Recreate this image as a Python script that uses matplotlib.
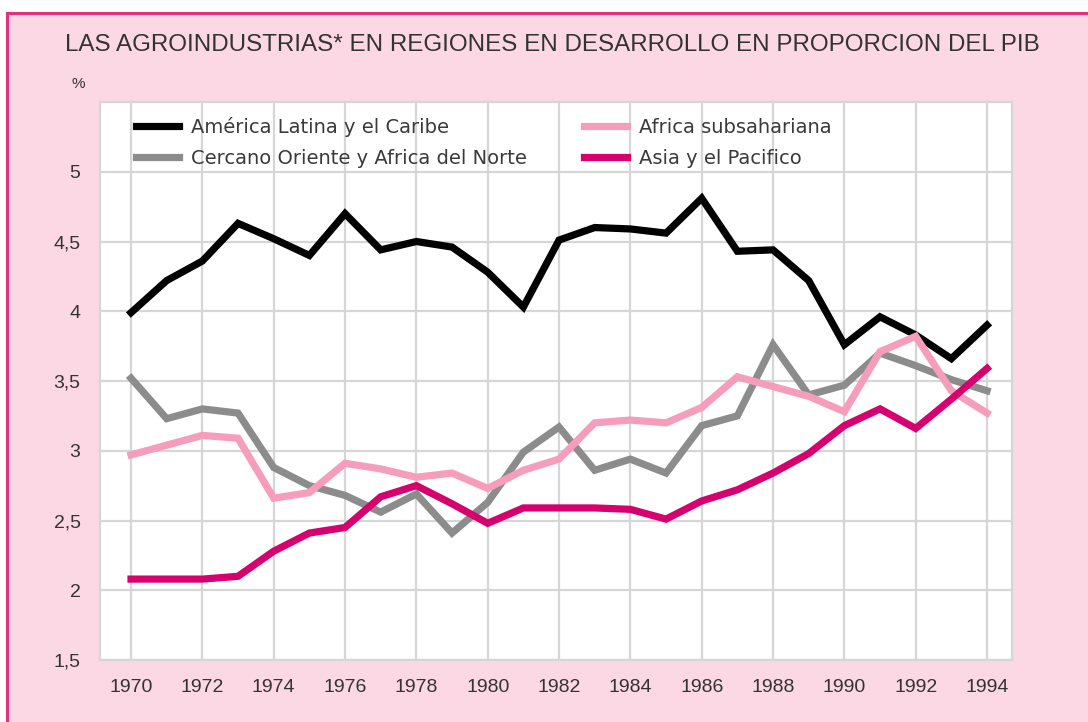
import numpy as np
import matplotlib.pyplot as plt
from matplotlib.patches import Rectangle
from matplotlib.lines import Line2D

years = list(range(1970, 1995))

america_latina = [3.99, 4.22, 4.36, 4.63, 4.52, 4.40, 4.70, 4.44, 4.50, 4.46, 4.28, 4.03, 4.51,
                  4.60, 4.59, 4.56, 4.81, 4.43, 4.44, 4.22, 3.76, 3.96, 3.83, 3.66, 3.90]
cercano_oriente = [3.52, 3.23, 3.30, 3.27, 2.88, 2.75, 2.68, 2.56, 2.69, 2.41, 2.63, 2.99, 3.17,
                   2.86, 2.94, 2.84, 3.18, 3.25, 3.76, 3.40, 3.47, 3.70, 3.61, 3.51, 3.43]
africa_sub = [2.97, 3.04, 3.11, 3.09, 2.66, 2.70, 2.91, 2.87, 2.81, 2.84, 2.73, 2.86, 2.94,
              3.20, 3.22, 3.20, 3.31, 3.53, 3.46, 3.39, 3.28, 3.71, 3.82, 3.43, 3.27]
asia_pacifico = [2.08, 2.08, 2.08, 2.10, 2.28, 2.41, 2.45, 2.67, 2.75, 2.62, 2.48, 2.59, 2.59,
                 2.59, 2.58, 2.51, 2.64, 2.72, 2.84, 2.98, 3.18, 3.30, 3.16, 3.37, 3.59]

series_names = ["América Latina y el Caribe", "Cercano Oriente y Africa del Norte",
                "Africa subsahariana", "Asia y el Pacifico"]
series_colors = ["#000000", "#8c8c8c", "#f59dbb", "#d6006e"]

xticks = list(range(1970, 1995, 2))
yticks = [1.5, 2, 2.5, 3, 3.5, 4, 4.5, 5]
ytick_labels = ["1,5", "2", "2,5", "3", "3,5", "4", "4,5", "5"]

pink = "#fbd8e4"
border = "#e2317e"
narrow = ["Liberation Sans", "DejaVu Sans"]

fig = plt.figure(figsize=(10.88, 7.22), dpi=100, facecolor="white")
# pink panel with magenta border on top and left
x0, y0 = 7 / 1088, 1 - 13 / 722
fig.patches.append(Rectangle((x0, 0), 1 - x0, y0, transform=fig.transFigure,
                             facecolor=pink, edgecolor="none", zorder=-5))
fig.add_artist(Line2D([x0, 1], [y0, y0], transform=fig.transFigure, color=border, lw=2.2))
fig.add_artist(Line2D([x0, x0], [0, y0], transform=fig.transFigure, color=border, lw=2.2))

ax = fig.add_axes([100 / 1088, 62 / 722, 912 / 1088, 558 / 722], zorder=2)
ax.set_facecolor("white")

data = [america_latina, cercano_oriente, africa_sub, asia_pacifico]
for vals, name, col in zip(data, series_names, series_colors):
    ax.plot(years, vals, color=col, lw=5.2, label=name, solid_joinstyle="miter", zorder=3)

ax.set_xlim(1969.13, 1994.70)
ax.set_ylim(1.5, 5.5)
ax.set_xticks(xticks)
ax.set_xticklabels([str(y) for y in xticks], family=narrow, fontsize=14, color="#333333")
ax.set_yticks(yticks)
ax.set_yticklabels(ytick_labels, family=narrow, fontsize=14, color="#333333")
ax.tick_params(length=0, pad=14)
ax.tick_params(axis="x", pad=14)
ax.grid(True, color="#d6d6d6", lw=1.6, zorder=1)
ax.set_axisbelow(True)
for s in ax.spines.values():
    s.set_color("#d6d6d6")
    s.set_linewidth(1.6)

leg = ax.legend(ncol=2, loc="upper left", bbox_to_anchor=(0.040, 0.974), frameon=False,
                fontsize=14, handlelength=2.2, handletextpad=0.6, columnspacing=2.95,
                labelspacing=0.62, borderaxespad=0, borderpad=0)
for t in leg.get_texts():
    t.set_color("#3a3a3a")

fig.text(65 / 1088, 1 - 45 / 722, "LAS AGROINDUSTRIAS* EN REGIONES EN DESARROLLO EN PROPORCION DEL PIB",
         family=narrow, fontsize=17.4, color="#333333", va="center", ha="left")
fig.text(78 / 1088, 1 - 84 / 722, "%", family=narrow, fontsize=11, color="#333333",
         va="center", ha="center")

fig.savefig("out.png", dpi=100, facecolor=fig.get_facecolor())
